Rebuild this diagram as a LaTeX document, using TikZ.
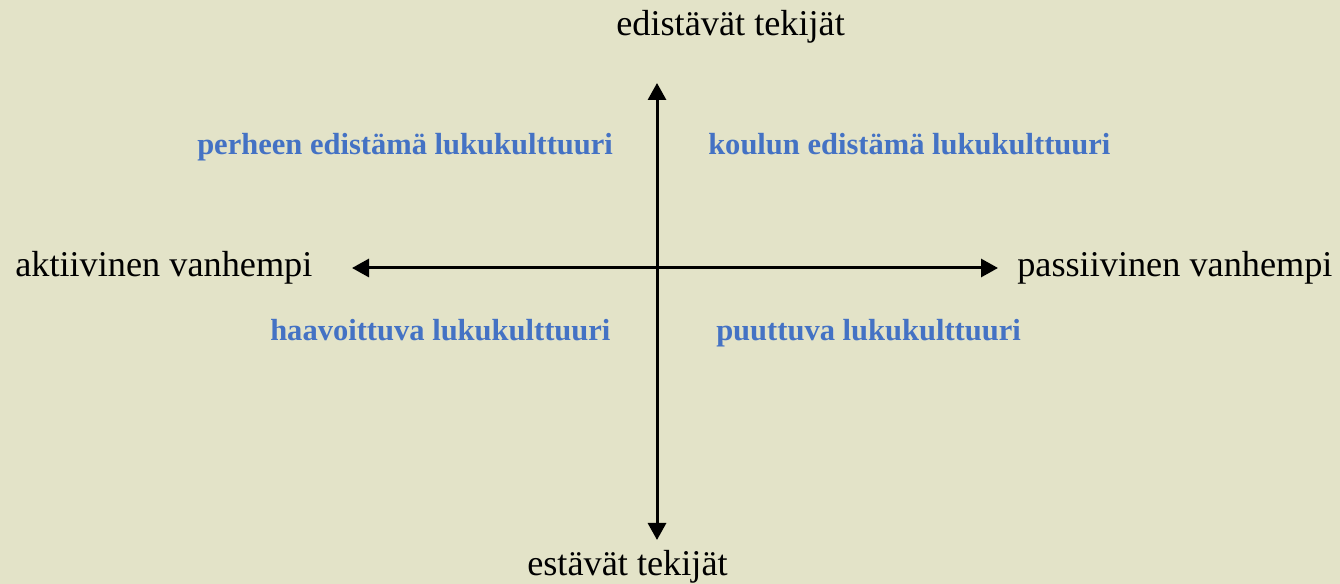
\documentclass[tikz,border=0pt]{standalone}
\usepackage{fontspec}
\setmainfont{Liberation Serif}
\usetikzlibrary{arrows.meta}
\definecolor{bg}{HTML}{E3E3C8}
\definecolor{qblue}{HTML}{4472C4}
\tikzset{
  axislabel/.style={anchor=base west, inner sep=0pt, font=\fontsize{27.2pt}{30pt}\selectfont},
  quadlabel/.style={anchor=base west, inner sep=0pt, text=qblue, font=\fontsize{22.9pt}{26pt}\selectfont\bfseries},
  axis/.style={line width=2.25pt, -{Triangle[length=12.75pt,width=13.5pt]}},
}
\begin{document}
\begin{tikzpicture}[x=0.75pt,y=-0.75pt]
\fill[bg] (0,0) rectangle (1340,584);
\useasboundingbox (0,0) rectangle (1340,584);
\coordinate (c) at (657,268);
\coordinate (top) at (657,83);
\coordinate (bot) at (657,540);
\coordinate (lft) at (352,268);
\coordinate (rgt) at (998,268);
\draw[axis] (c) -- (top);
\draw[axis] (c) -- (bot);
\draw[axis] (c) -- (lft);
\draw[axis] (c) -- (rgt);
\node[axislabel] (ed) at (616,36) {edistävät tekijät};
\node[axislabel] (es) at (527,576) {estävät tekijät};
\node[axislabel] (ak) at (15,277) {aktiivinen vanhempi};
\node[axislabel] (pa) at (1017,277) {passiivinen vanhempi};
\node[quadlabel] (pe) at (197,155) {perheen edistämä lukukulttuuri};
\node[quadlabel] (ko) at (708,155) {koulun edistämä lukukulttuuri};
\node[quadlabel] (ha) at (270,341) {haavoittuva lukukulttuuri};
\node[quadlabel] (pu) at (716,341) {puuttuva lukukulttuuri};
\end{tikzpicture}
\end{document}
